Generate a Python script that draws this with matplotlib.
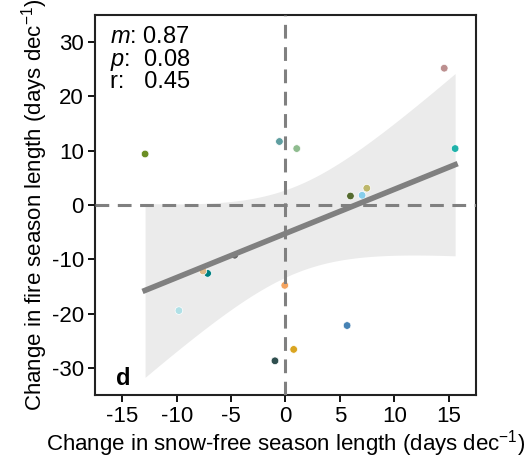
import numpy as np
import matplotlib
matplotlib.use("Agg")
import matplotlib.pyplot as plt

plt.rcParams["font.family"] = ["Liberation Sans", "DejaVu Sans"]
plt.rcParams["mathtext.fontset"] = "custom"
plt.rcParams["mathtext.rm"] = "Liberation Sans"
plt.rcParams["mathtext.it"] = "Liberation Sans:italic"
plt.rcParams["axes.unicode_minus"] = False

# snow-free season change vs fire season change (days dec-1), one point per region
snow_free = [-12.9, -0.55, 1.04, 14.6, 15.6, 5.98, 7.05, 7.48,
             -7.15, -7.58, -4.66, -9.79, -0.06, 5.67, 0.76, -0.96]
fire = [9.4, 11.7, 10.4, 25.2, 10.4, 1.66, 1.79, 3.1,
        -12.6, -12.15, -9.26, -19.45, -14.8, -22.2, -26.6, -28.7]
colors = ["#6b8e23", "#5f9ea0", "#8fbc8f", "#bc8f8f", "#20b2aa", "#556b2f", "#87ceeb", "#bdb76b",
          "#008080", "#deb887", "#696969", "#b0e0e6", "#f4a460", "#4682b4", "#daa520", "#2f4f4f"]
stats_text = "$m$: 0.87\n$p$:  0.08\nr:   0.45"

x = np.array(snow_free)
y = np.array(fire)

fig = plt.figure(figsize=(5.31, 4.62), dpi=100)
ax = fig.add_axes([0.179, 0.145, 0.717, 0.8225])

# linear fit with 95% confidence band
slope, intercept = np.polyfit(x, y, 1)
xs = np.linspace(x.min(), x.max(), 100)
ys = slope * xs + intercept
n = len(x)
resid = y - (slope * x + intercept)
s = np.sqrt(np.sum(resid ** 2) / (n - 2))
sxx = np.sum((x - x.mean()) ** 2)
se = s * np.sqrt(1.0 / n + (xs - x.mean()) ** 2 / sxx)
t_val = 2.145  # t(0.975, df=14)
ax.fill_between(xs, ys - t_val * se, ys + t_val * se, color="#ebebeb", lw=0, zorder=1)

ax.scatter(x, y, c=colors, s=30, edgecolors="white", linewidths=0.5, zorder=2)

ax.axhline(0, color="#808080", lw=2.2, ls=(0, (4.5, 2.8)), zorder=3)
ax.axvline(0, color="#808080", lw=2.2, ls=(0, (4.5, 2.8)), zorder=3)
ax.plot(xs, ys, color="#808080", lw=4, zorder=4)

ax.set_xlim(-17.5, 17.5)
ax.set_ylim(-35, 35)
ax.set_xticks([-15, -10, -5, 0, 5, 10, 15])
ax.set_yticks([-30, -20, -10, 0, 10, 20, 30])
ax.tick_params(labelsize=16, length=5, width=1.3, direction="out", pad=3)
for sp in ax.spines.values():
    sp.set_linewidth(1.5)
    sp.set_color("#222222")

ax.set_xlabel("Change in snow-free season length (days dec$^{-1}$)", fontsize=16, labelpad=1)
ax.set_ylabel("Change in fire season length (days dec$^{-1}$)", fontsize=16, labelpad=1)

ax.text(0.04, 0.97, stats_text, transform=ax.transAxes, va="top", ha="left",
        fontsize=17, linespacing=0.9)
ax.text(0.055, 0.012, "d", transform=ax.transAxes, va="bottom", ha="left",
        fontsize=17, fontweight="bold")

fig.savefig("out.png", dpi=100)
